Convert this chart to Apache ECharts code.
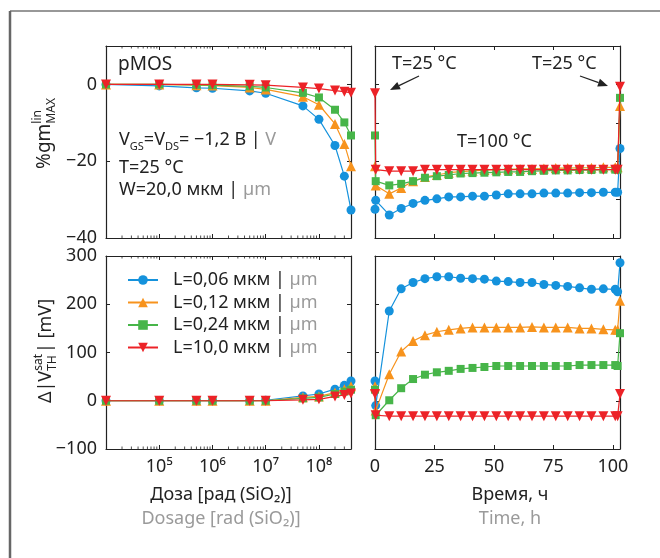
<!DOCTYPE html>
<html>
<head>
<meta charset="utf-8">
<script src="https://cdn.jsdelivr.net/npm/echarts@6/dist/echarts.min.js"></script>
<style>
  html, body { margin: 0; padding: 0; background: #fff; }
  #chart { width: 660px; height: 558px; }
</style>
</head>
<body>
<div id="chart"></div>
<script>
// --- data ---
const names = ['L=0,06 мкм', 'L=0,12 мкм', 'L=0,24 мкм', 'L=10,0 мкм'];

// dose, rad(SiO2)
const doses = [1e4, 1e5, 5e5, 1e6, 5e6, 1e7, 5e7, 1e8, 2e8, 3e8, 4e8];
const gmDose006 = [0, -0.4, -0.9, -1.0, -1.7, -2.3, -5.6, -9.1, -15.9, -23.9, -32.7];
const gmDose012 = [0, 0, -0.2, -0.3, -0.8, -1.3, -3.2, -5.3, -10.3, -15.5, -21.3];
const gmDose024 = [0, 0, -0.1, -0.2, -0.5, -0.8, -2.2, -3.4, -6.6, -9.9, -13.3];
const gmDose10 = [0, 0, 0, 0, -0.1, -0.2, -0.8, -1.1, -1.6, -1.9, -2.2];
const vthDose006 = [0, 0, 0, 0, 0, 1, 10, 14, 24, 32, 41];
const vthDose012 = [0, 0, 0, 0, 0, 0, 7, 9, 17, 24, 30];
const vthDose024 = [0, 0, 0, 0, 0, 0, 5, 7, 14, 19, 23];
const vthDose10 = [0, 0, 0, 0, 0, 0, 2, 3, 9, 12, 15];

// annealing time, h
const times = [0, 0.3, 6, 11, 16, 21, 26, 31, 36, 41, 46, 51, 56, 61, 66, 71, 76, 81, 86, 91, 96, 101, 102, 103];
const gmTime006 = [-32.5, -30.2, -34, -32.3, -31, -30.2, -29.8, -29.3, -29.3, -29.1, -29.1, -28.8, -28.5, -28.5, -28.5, -28.3, -28.3, -28.3, -28.2, -28.2, -28.1, -28.1, -28.1, -16.7];
const gmTime012 = [-21.3, -26.3, -28.5, -27, -25.2, -24.1, -23.6, -23, -22.7, -22.5, -22.3, -22.2, -22.1, -22, -22, -21.9, -21.8, -21.8, -21.7, -21.7, -21.6, -21.6, -21.6, -5.6];
const gmTime024 = [-13.3, -25.2, -26.3, -25.9, -25.2, -24.3, -23.9, -23.6, -23.2, -23.1, -23, -22.9, -22.8, -22.8, -22.6, -22.5, -22.4, -22.4, -22.3, -22.3, -22.2, -22.2, -22.2, -3.5];
const gmTime10 = [-2.3, -22.2, -22.6, -22.6, -22.6, -22.2, -22.2, -22.2, -22.2, -22.2, -22.2, -22.2, -22.2, -22.2, -22.2, -22.2, -22.2, -22.2, -22.2, -22.2, -22.2, -22.2, -22.2, -0.6];
const vthTime006 = [41, -10, 186, 232, 245, 253, 257, 257, 254, 253, 252, 248, 247, 245, 245, 241, 239, 237, 234, 231, 232, 231, 226, 286];
const vthTime012 = [30, -20, 55, 102, 124, 136, 143, 147, 150, 152, 152, 152, 152, 152, 153, 152, 152, 152, 150, 150, 148, 147, 147, 207];
const vthTime024 = [23, -30, 1, 26, 45, 54, 59, 62, 66, 68, 70, 72, 72, 72, 72, 72, 72, 72, 74, 74, 74, 74, 72, 140];
const vthTime10 = [14, -30, -32, -32, -32, -32, -32, -32, -32, -32, -32, -32, -32, -32, -32, -32, -32, -32, -32, -32, -32, -32, -32, 14];

const timeTicks = [0, 25, 50, 75, 100];

// --- styles ---
const FONT = '"Noto Sans", sans-serif';
const FS = 18;
const INK = '#222';
const GRAY = '#9a9a9a';
const colors = ['#1592dc', '#f7931d', '#47b549', '#ec2227'];
const symbols = ['circle', 'triangle', 'rect', 'path://M0,0 L10,0 L5,9 Z'];
const symbolSizes = [9, 10, 8, 10];

const chart = echarts.init(document.getElementById('chart'), null, { renderer: 'canvas' });

const grids = [
    { left: 106, top: 46, width: 245, height: 192 },
    { left: 375, top: 46, width: 245, height: 192 },
    { left: 106, top: 256, width: 245, height: 193 },
    { left: 375, top: 256, width: 245, height: 193 }
];

const tick = { show: true, inside: true, length: 4, lineStyle: { color: INK, width: 1 } };
const line = { show: true, onZero: false, lineStyle: { color: INK, width: 1.2 } };
const label = { color: INK, fontSize: FS, fontFamily: FONT };

const isPow10 = v => Math.abs(Math.log10(v) - Math.round(Math.log10(v))) < 1e-6;
const supDigits = { '4': '⁴', '5': '⁵', '6': '⁶', '7': '⁷', '8': '⁸' };
const minus = v => v < 0 ? '−' + Math.abs(v) : String(v);

function logAxis(grid, pos, labels) {
    return {
        type: 'log', logBase: 10, gridIndex: grid, position: pos,
        min: 1e4, max: 4e8,
        axisLine: line, axisTick: tick, splitLine: { show: false },
        axisLabel: labels ? Object.assign({}, label, {
            margin: 9,
            formatter: v => (isPow10(v) && v > 1e4) ? '10' + supDigits[String(Math.round(Math.log10(v)))] : ''
        }) : { show: false }
    };
}
function timeAxis(grid, pos, labels) {
    return {
        type: 'value', gridIndex: grid, position: pos,
        min: 0, max: 103, interval: 25,
        axisLine: line, axisTick: tick, splitLine: { show: false },
        axisLabel: labels ? Object.assign({}, label, {
            margin: 9,
            formatter: v => timeTicks.includes(v) ? String(v) : ''
        }) : { show: false }
    };
}
function yAx(grid, pos, min, max, interval, labels) {
    return {
        type: 'value', gridIndex: grid, position: pos,
        min: min, max: max, interval: interval,
        axisLine: line, axisTick: tick, splitLine: { show: false },
        axisLabel: labels ? Object.assign({}, label, {
            margin: 9, showMaxLabel: max % interval === 0,
            formatter: v => (v > max - 1e-9 && max % interval !== 0) ? '' : minus(v)
        }) : { show: false }
    };
}

const xAxes = [
    logAxis(0, 'bottom', false), logAxis(0, 'top', false),
    timeAxis(1, 'bottom', false), timeAxis(1, 'top', false),
    logAxis(2, 'bottom', true), logAxis(2, 'top', false),
    timeAxis(3, 'bottom', true), timeAxis(3, 'top', false)
];
const yAxes = [
    yAx(0, 'left', -40, 10, 20, true), yAx(0, 'right', -40, 10, 20, false),
    yAx(1, 'left', -40, 10, 10, false), yAx(1, 'right', -40, 10, 10, false),
    yAx(2, 'left', -100, 300, 100, true), yAx(2, 'right', -100, 300, 100, false),
    yAx(3, 'left', -100, 300, 100, false), yAx(3, 'right', -100, 300, 100, false)
];

function lineSeries(i, axis, xs, ys) {
    return {
        name: names[i], type: 'line',
        xAxisIndex: axis, yAxisIndex: axis,
        data: xs.map((x, k) => [x, ys[k]]),
        symbol: symbols[i], symbolSize: symbolSizes[i],
        itemStyle: { color: colors[i] },
        lineStyle: { color: colors[i], width: 1.2 },
        z: 3 + i, animation: false
    };
}

// minor ticks of the log axes (2..9 in every decade)
const minorDoses = [];
for (let d = 4; d <= 8; d++) {
    for (let m = 2; m <= 9; m++) {
        if (m * Math.pow(10, d) < 4e8) minorDoses.push(m * Math.pow(10, d));
    }
}
function minorTicks(axis, yMin, yMax) {
    return {
        type: 'custom', xAxisIndex: axis, yAxisIndex: axis, silent: true, z: 1,
        data: minorDoses.map(v => [v, yMin]),
        renderItem: (params, api) => {
            const b = api.coord([api.value(0), yMin]);
            const t = api.coord([api.value(0), yMax]);
            const st = { stroke: INK, lineWidth: 0.8 };
            return {
                type: 'group', children: [
                    { type: 'line', shape: { x1: b[0], y1: b[1], x2: b[0], y2: b[1] - 2.5 }, style: st },
                    { type: 'line', shape: { x1: t[0], y1: t[1], x2: t[0], y2: t[1] + 2.5 }, style: st }
                ]
            };
        }
    };
}

const series = [
    minorTicks(0, -40, 10), minorTicks(4, -100, 300),
    lineSeries(0, 0, doses, gmDose006), lineSeries(1, 0, doses, gmDose012),
    lineSeries(2, 0, doses, gmDose024), lineSeries(3, 0, doses, gmDose10),
    lineSeries(0, 2, times, gmTime006), lineSeries(1, 2, times, gmTime012),
    lineSeries(2, 2, times, gmTime024), lineSeries(3, 2, times, gmTime10),
    lineSeries(0, 4, doses, vthDose006), lineSeries(1, 4, doses, vthDose012),
    lineSeries(2, 4, doses, vthDose024), lineSeries(3, 4, doses, vthDose10),
    lineSeries(0, 6, times, vthTime006), lineSeries(1, 6, times, vthTime012),
    lineSeries(2, 6, times, vthTime024), lineSeries(3, 6, times, vthTime10)
];

// --- annotations ---
const ctx = document.createElement('canvas').getContext('2d');
function tw(text, size) {
    ctx.font = size + 'px ' + FONT;
    return ctx.measureText(text).width;
}
function txt(text, x, y, size, color, align, extra) {
    return {
        type: 'text', x: x, y: y, silent: true,
        style: Object.assign({
            text: text, fontSize: size, fontFamily: FONT, fill: color || INK,
            align: align || 'left', verticalAlign: 'middle',
            textAlign: align || 'left', textVerticalAlign: 'middle'
        }, extra || {})
    };
}
// rotated axis title with a stacked super/subscript: main + [sup over sub] + tail
function stackedTitle(cx, cy, s1, main, sup, sub, tail) {
    const s2 = 12;
    const w1 = tw(main, s1), w2 = Math.max(tw(sup, s2), tw(sub, s2)) + 1, w3 = tail ? tw(tail, s1) : 0;
    const x0 = -(w1 + w2 + w3) / 2;
    const kids = [
        txt(main, x0, 0, s1),
        txt(sup, x0 + w1, -7, s2),
        txt(sub, x0 + w1, 7, s2)
    ];
    if (tail) kids.push(txt(tail, x0 + w1 + w2, 0, s1));
    return { type: 'group', x: cx, y: cy, rotation: Math.PI / 2, children: kids };
}
function arrow(x1, y1, x2, y2) {
    const dx = x2 - x1, dy = y2 - y1, L = Math.hypot(dx, dy);
    const ux = dx / L, uy = dy / L, hl = 10, hw = 4;
    const bx = x2 - ux * hl, by = y2 - uy * hl;
    return [
        { type: 'line', silent: true, shape: { x1: x1, y1: y1, x2: bx, y2: by }, style: { stroke: INK, lineWidth: 1.3 } },
        {
            type: 'polygon', silent: true,
            shape: { points: [[x2, y2], [bx - uy * hw, by + ux * hw], [bx + uy * hw, by - ux * hw]] },
            style: { fill: INK }
        }
    ];
}

const richSub = {
    s: { fontSize: 11, fontFamily: FONT, fill: INK, color: INK, verticalAlign: 'bottom', lineHeight: 11 },
    g: { fontSize: FS, fontFamily: FONT, fill: GRAY, color: GRAY, lineHeight: 24 },
    n: { fontSize: FS, fontFamily: FONT, fill: INK, color: INK, lineHeight: 24 }
};

const graphic = [
    // frame
    { type: 'line', silent: true, shape: { x1: 10, y1: 11, x2: 660, y2: 11 }, style: { stroke: '#333', lineWidth: 1.2 } },
    { type: 'line', silent: true, shape: { x1: 10, y1: 11, x2: 10, y2: 558 }, style: { stroke: '#666', lineWidth: 2.5 } },
    // y titles
    stackedTitle(45, 133, 19, '%gm', 'lin', 'MAX', ''),
    stackedTitle(46, 351, 18, 'Δ|V', 'sat', 'TH', '| [mV]'),
    // panel texts
    txt('pMOS', 118, 65, 19),
    {
        type: 'text', x: 119, y: 140, silent: true,
        style: {
            text: '{n|V}{s|GS}{n|=V}{s|DS}{n|= −1,2 B | }{g|V}', rich: richSub,
            fontSize: FS, fontFamily: FONT, verticalAlign: 'middle', textVerticalAlign: 'middle'
        }
    },
    txt('T=25 °C', 119, 168, FS),
    {
        type: 'text', x: 119, y: 190, silent: true,
        style: {
            text: '{n|W=20,0 мкм | }{g|µm}', rich: richSub,
            fontSize: FS, fontFamily: FONT, verticalAlign: 'middle', textVerticalAlign: 'middle'
        }
    },
    txt('T=25 °C', 392, 64, FS),
    txt('T=25 °C', 532, 64, FS),
    txt('T=100 °C', 457, 142, FS),
    ...arrow(419, 76, 390, 90),
    ...arrow(580, 76, 608, 86),
    // x titles
    txt('Доза [рад (SiO₂)]', 221, 495, FS, INK, 'center'),
    txt('Dosage [rad (SiO₂)]', 221, 519, FS, GRAY, 'center'),
    txt('Время, ч', 510, 495, FS, INK, 'center'),
    txt('Time, h', 510, 519, FS, GRAY, 'center')
];

chart.setOption({
    animation: false,
    backgroundColor: '#fff',
    textStyle: { fontFamily: FONT },
    grid: grids,
    xAxis: xAxes,
    yAxis: yAxes,
    legend: {
        data: names,
        orient: 'vertical', left: 122, top: 266,
        itemWidth: 30, itemHeight: 12, itemGap: 4.5,
        textStyle: {
            color: INK, fontSize: FS, fontFamily: FONT, lineHeight: 18, padding: [0, 0, 0, 10],
            rich: { g: { color: GRAY, fontSize: FS, fontFamily: FONT } }
        },
        formatter: name => name + ' | {g|µm}',
        selectedMode: false
    },
    graphic: graphic,
    series: series
});
</script>
</body>
</html>
